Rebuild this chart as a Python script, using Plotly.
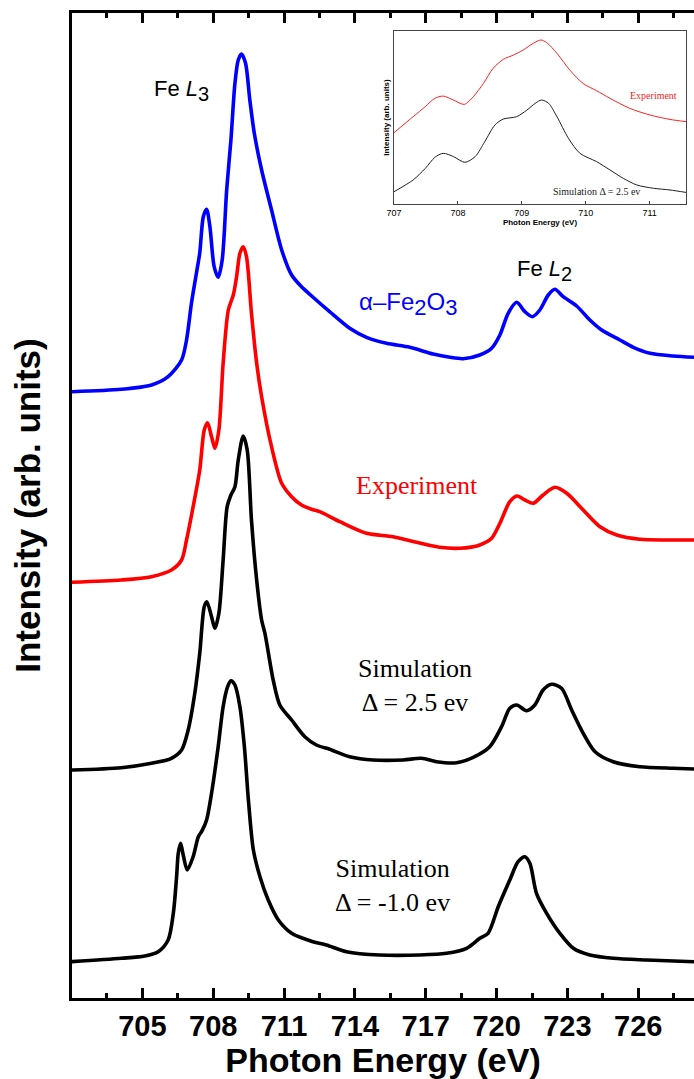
import plotly.graph_objects as go

# ---------------- main spectra (photon energy in eV, intensity in arb. units, stacked) -------------
energy_fe2o3 = [702.0, 704.11, 705.39, 706.09, 706.66, 706.87, 707.08, 707.29, 707.43, 707.58, 707.72,
                707.86, 708.04, 708.21, 708.38, 708.57, 708.75, 708.92, 709.06, 709.20, 709.37, 709.55,
                709.74, 710.05, 710.47, 710.90, 711.32, 711.74, 712.17, 712.93, 713.78, 714.49, 715.34,
                716.32, 717.31, 718.02, 718.58, 719.29, 719.79, 720.14, 720.49, 720.85, 721.20, 721.52,
                721.83, 722.19, 722.47, 722.82, 723.39, 723.95, 724.45, 725.22, 725.79, 726.50, 727.48,
                728.36]
intensity_fe2o3 = [606.3, 608.7, 613, 621.3, 638, 658, 695, 725, 745, 781.3, 788.7, 771.3, 731.3, 720.7,
                   738, 808, 858, 914.7, 938, 944, 934.7, 898, 864.7, 828, 788, 748, 723, 711.3, 702,
                   686.3, 669.7, 660.7, 654.7, 650.7, 644, 640.7, 639.3, 643, 649.7, 663, 684.7, 695.7,
                   686.3, 681.3, 688, 703, 708.7, 701.3, 692, 678, 668, 658, 650.7, 644.7, 642, 640.7]

energy_exp = [702.0, 704.11, 705.39, 706.23, 706.66, 706.87, 707.15, 707.43, 707.62, 707.76, 707.93,
              708.07, 708.24, 708.42, 708.64, 708.85, 708.99, 709.13, 709.27, 709.41, 709.62, 709.84,
              710.05, 710.47, 710.90, 711.32, 711.74, 712.17, 712.51, 713.36, 714.49, 715.61, 716.61,
              717.59, 718.44, 719.29, 719.79, 720.14, 720.56, 720.87, 721.20, 721.55, 721.97, 722.47,
              722.97, 723.67, 724.38, 725.09, 726.07, 727.20, 728.36]
intensity_exp = [415.7, 418, 421.3, 428, 438, 458, 491.3, 528, 568, 575.3, 561.3, 549.7, 568, 634.7, 688,
                 703, 721.3, 744.7, 751.3, 741.3, 684.7, 634.7, 601.3, 551.3, 514.7, 501.3, 493, 488.7,
                 486.3, 476.3, 464.7, 461.3, 455.7, 450.7, 449.7, 453, 459.7, 474.7, 496.3, 502, 498,
                 494.7, 503, 510.7, 504.7, 488, 471.3, 463, 458.7, 458, 458]

energy_sim25 = [702.0, 704.11, 705.39, 706.23, 706.66, 706.94, 707.22, 707.43, 707.62, 707.73, 707.93,
                708.07, 708.24, 708.42, 708.59, 708.75, 708.92, 709.06, 709.27, 709.44, 709.62, 709.84,
                710.05, 710.19, 710.54, 710.82, 711.32, 711.88, 712.37, 712.93, 713.78, 714.77, 716.04,
                716.82, 717.45, 718.30, 719.01, 719.71, 720.21, 720.56, 720.85, 721.27, 721.62, 721.97,
                722.33, 722.75, 723.18, 723.67, 724.17, 724.94, 726.07, 727.48, 728.36]
intensity_sim25 = [228, 230.3, 234.7, 239.7, 248, 268, 304.7, 344.7, 391.3, 396.3, 381.3, 369.7, 384.7,
                   438, 491.3, 503, 511.3, 538, 562, 548, 478, 418, 378, 364.7, 318, 293, 278, 261.3, 253,
                   248.7, 241.3, 238, 238, 239.7, 236.3, 235.3, 240.7, 251.3, 271.3, 289.7, 293, 287.3,
                   293, 308, 313.7, 309.7, 288, 264.7, 246.3, 236.3, 231.3, 229.7, 229]

energy_sim10 = [702.0, 704.11, 705.10, 705.67, 706.09, 706.31, 706.45, 706.52, 706.62, 706.73, 706.90,
                707.15, 707.37, 707.53, 707.72, 707.93, 708.21, 708.42, 708.61, 708.75, 708.92, 709.13,
                709.32, 709.49, 709.70, 709.98, 710.33, 710.76, 711.32, 712.22, 712.79, 713.64, 715.05,
                716.75, 717.88, 718.73, 719.29, 719.64, 720.07, 720.56, 720.91, 721.20, 721.41, 721.69,
                722.12, 722.68, 723.25, 723.95, 724.94, 726.36, 728.36]
intensity_sim10 = [36.3, 39.7, 42, 46.3, 58, 84.7, 121.3, 144.7, 154.7, 143, 128, 141.3, 161.3, 167.3,
                   178, 204.7, 251.3, 291.3, 311.3, 317.3, 313, 291.3, 251.3, 198, 148, 121.3, 98, 78,
                   64.7, 56.3, 53, 46.3, 43, 43, 44.7, 49.7, 59.7, 64.7, 91.3, 118, 136.3, 141.3, 134.7,
                   104.7, 84.7, 64.7, 49.7, 43, 39.7, 38, 36.3]

x_tick_values = [705, 708, 711, 714, 717, 720, 723, 726]

# ---------------- inset (zoom of the L3 edge) ----------------
inset_energy_exp = [707.0, 707.30, 707.49, 707.64, 707.77, 707.93, 708.10, 708.24, 708.40, 708.55, 708.71,
                    708.87, 709.02, 709.18, 709.30, 709.39, 709.55, 709.75, 709.96, 710.17, 710.38, 710.69,
                    711.01, 711.32, 711.57]
inset_intensity_exp = [0.412, 0.505, 0.563, 0.611, 0.624, 0.601, 0.576, 0.620, 0.697, 0.784, 0.836, 0.861,
                       0.890, 0.929, 0.948, 0.933, 0.871, 0.775, 0.697, 0.655, 0.611, 0.553, 0.514, 0.489,
                       0.476]
inset_energy_sim = [707.0, 707.30, 707.49, 707.64, 707.77, 707.93, 708.11, 708.27, 708.42, 708.58, 708.71,
                    708.92, 709.08, 709.21, 709.31, 709.42, 709.55, 709.73, 709.91, 710.17, 710.38, 710.59,
                    710.80, 711.06, 711.32, 711.57]
inset_intensity_sim = [0.071, 0.139, 0.206, 0.270, 0.293, 0.274, 0.241, 0.274, 0.360, 0.457, 0.491, 0.505,
                       0.543, 0.582, 0.601, 0.582, 0.505, 0.380, 0.293, 0.245, 0.197, 0.148, 0.110, 0.091,
                       0.081, 0.067]
inset_marker_energies = [707.77, 708.68, 709.29]
inset_tick_values = [707, 708, 709, 710, 711]

SANS = "Liberation Sans, Arial, sans-serif"
SERIF = "Liberation Serif, Times New Roman, serif"

fig = go.Figure()

main_series = [
    (energy_fe2o3, intensity_fe2o3, "#0000FF", "α-Fe2O3"),
    (energy_exp, intensity_exp, "#FF0000", "Experiment"),
    (energy_sim25, intensity_sim25, "#000000", "Simulation Δ = 2.5 ev"),
    (energy_sim10, intensity_sim10, "#000000", "Simulation Δ = -1.0 ev"),
]
for xs, ys, col, name in main_series:
    fig.add_trace(go.Scatter(x=xs, y=ys, mode="lines", name=name,
                             line=dict(color=col, width=3.6, shape="spline", smoothing=0.8),
                             xaxis="x", yaxis="y", showlegend=False, hoverinfo="skip"))

fig.add_trace(go.Scatter(x=inset_energy_exp, y=inset_intensity_exp, mode="lines",
                         line=dict(color="#FF2020", width=1, shape="spline", smoothing=0.8),
                         xaxis="x2", yaxis="y2", showlegend=False, hoverinfo="skip"))
fig.add_trace(go.Scatter(x=inset_energy_sim, y=inset_intensity_sim, mode="lines",
                         line=dict(color="#202020", width=1, shape="spline", smoothing=0.8),
                         xaxis="x2", yaxis="y2", showlegend=False, hoverinfo="skip"))

for e in inset_marker_energies:
    fig.add_shape(type="line", xref="x2", yref="y2 domain", x0=e, x1=e, y0=0, y1=1,
                  line=dict(color="#d0d0d0", width=1), layer="below")

SUB = '<sub><span style="font-size:{}px">{}</span></sub>'
annotations = [
    dict(x=705.39, y=908, text="Fe <i>L</i>" + SUB.format(20, "3"), font=dict(family=SANS, size=22, color="black"),
         xanchor="left", yanchor="middle"),
    dict(x=720.77, y=728, text="Fe <i>L</i>" + SUB.format(20, "2"), font=dict(family=SANS, size=22, color="black"),
         xanchor="left", yanchor="middle"),
    dict(x=714.08, y=694, text="α–Fe" + SUB.format(22, "2") + "O" + SUB.format(22, "3"),
         font=dict(family=SANS, size=24, color="#0000FF"), xanchor="left", yanchor="middle"),
    dict(x=716.64, y=513, text="Experiment", font=dict(family=SERIF, size=26, color="#FF0000"),
         xanchor="center", yanchor="middle"),
    dict(x=716.53, y=313, text="Simulation<br>Δ = 2.5 ev", font=dict(family=SERIF, size=26, color="black"),
         xanchor="center", yanchor="middle", align="center"),
    dict(x=715.60, y=113, text="Simulation<br>Δ = -1.0 ev", font=dict(family=SERIF, size=26, color="black"),
         xanchor="center", yanchor="middle", align="center"),
]
for a in annotations:
    fig.add_annotation(xref="x", yref="y", showarrow=False, **a)

fig.add_annotation(xref="x2", yref="y2", x=711.06, y=0.63, text="Experiment", showarrow=False,
                   font=dict(family=SERIF, size=10, color="#FF2020"))
fig.add_annotation(xref="x2", yref="y2", x=710.17, y=0.071, text="Simulation Δ = 2.5 ev", showarrow=False,
                   font=dict(family=SERIF, size=10, color="#202020"))

fig.update_layout(
    width=694, height=1079,
    margin=dict(l=72, r=0, t=13, b=81),
    paper_bgcolor="white", plot_bgcolor="white",
    xaxis=dict(
        range=[702.02, 728.36], tickmode="linear", tick0=705, dtick=3,
        ticks="inside", ticklen=10, tickwidth=2.5, tickcolor="black",
        minor=dict(ticks="inside", ticklen=5, tickwidth=2.5, tickcolor="black", dtick=1.5, tick0=705),
        showline=True, linewidth=3, linecolor="black", mirror="ticks",
        showgrid=False, zeroline=False, automargin=False,
        tickfont=dict(family=SANS, size=29, color="black", weight="bold"),
        title=dict(text="Photon Energy (eV)", font=dict(family=SANS, size=34, color="black", weight="bold"),
                   standoff=4),
    ),
    yaxis=dict(
        range=[0, 985], showline=True, linewidth=3, linecolor="black", mirror=False,
        showticklabels=False, ticks="", showgrid=False, zeroline=False, automargin=False,
        title=dict(text="Intensity (arb. units)", font=dict(family=SANS, size=35, color="black", weight="bold"),
                   standoff=18),
    ),
    xaxis2=dict(
        domain=[0.5177, 0.9871], anchor="y2", range=[707, 711.57],
        tickmode="array", tickvals=inset_tick_values, ticks="inside", ticklen=3, tickwidth=1,
        tickcolor="#444", showline=True, linewidth=1, linecolor="#444", mirror=True,
        showgrid=False, zeroline=False, automargin=False,
        tickfont=dict(family=SANS, size=9, color="black"),
        title=dict(text="Photon Energy (eV)", font=dict(family=SANS, size=8, color="black", weight="bold"),
                   standoff=2),
    ),
    yaxis2=dict(
        domain=[0.8061, 0.9817], anchor="x2", range=[0, 1],
        showticklabels=False, ticks="", showline=True, linewidth=1, linecolor="#444", mirror=True,
        showgrid=False, zeroline=False, automargin=False,
        title=dict(text="Intensity (arb. units)", font=dict(family=SANS, size=8, color="black", weight="bold"),
                   standoff=2),
    ),
)

# remove the browser's default page margin so the 694x1079 figure fills the window exactly
fig.write_html("out.html", config={"displayModeBar": False},
               post_script="document.body.style.margin='0';document.body.style.overflow='hidden';")
